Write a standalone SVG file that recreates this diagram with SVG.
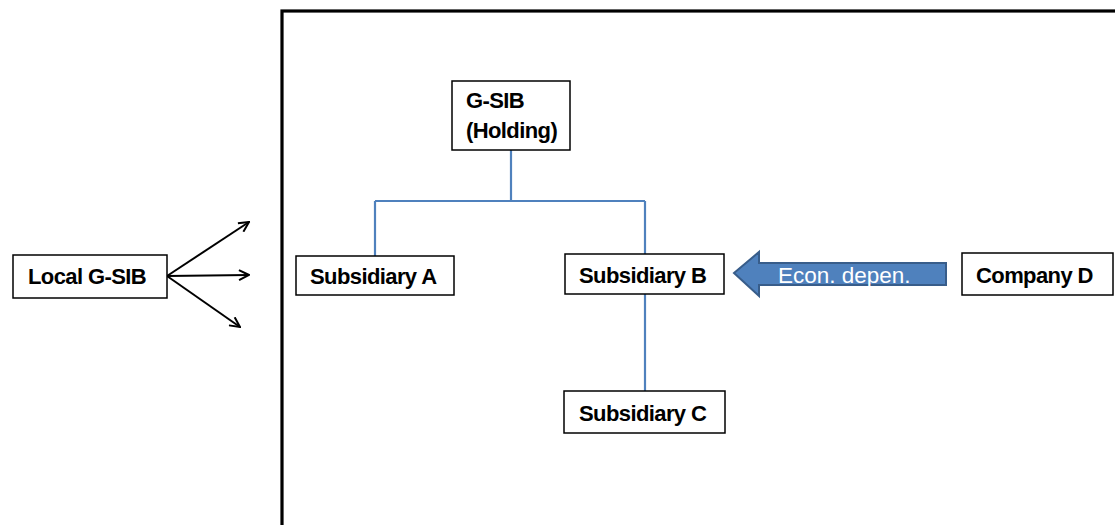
<svg xmlns="http://www.w3.org/2000/svg" width="1115" height="525" viewBox="0 0 1115 525">
<style>
.box{fill:#fff;stroke:#000;stroke-width:1.5}
.lbl{font-family:"Liberation Sans",Arial,sans-serif;font-weight:bold;font-size:22px;letter-spacing:-0.6px;fill:#000}
.tree{fill:none;stroke:#4f81bd;stroke-width:2.2}
.arr{fill:none;stroke:#000;stroke-width:2}
</style>
<defs>
<marker id="open" viewBox="0 0 12 12" refX="11" refY="6" markerWidth="12" markerHeight="12" markerUnits="userSpaceOnUse" orient="auto">
<path d="M1,1 L11,6 L1,11" fill="none" stroke="#000" stroke-width="2"/>
</marker>
</defs>
<rect x="282" y="11" width="900" height="600" fill="none" stroke="#000" stroke-width="3.2"/>
<g id="connectors">
<path class="tree" d="M511,150 V201 M375,201 H645 M375,201 V256 M645,201 V254 M645,294 V391"/>
<line class="arr" x1="167" y1="276" x2="249" y2="222" marker-end="url(#open)"/>
<line class="arr" x1="167" y1="276" x2="249" y2="275" marker-end="url(#open)"/>
<line class="arr" x1="167" y1="276" x2="240" y2="327" marker-end="url(#open)"/>
<g id="econ-arrow">
<path d="M734,273 L759,252 L759,263 L946,263 L946,285 L759,285 L759,296 Z" fill="#4f81bd" stroke="#385d8a" stroke-width="2"/>
<text x="778" y="283" font-family="'Liberation Sans',Arial,sans-serif" font-size="22.5" fill="#fff">Econ. depen.</text>
</g>
</g>
<g id="local-gsib">
<rect class="box" x="13" y="255" width="154" height="43"/>
<text class="lbl" x="28" y="284">Local G-SIB</text>
</g>
<g id="gsib-holding">
<rect class="box" x="452" y="81" width="118" height="69"/>
<text class="lbl" x="466" y="108">G-SIB</text>
<text class="lbl" x="466" y="138">(Holding)</text>
</g>
<g id="subsidiary-a">
<rect class="box" x="296" y="256" width="158" height="39"/>
<text class="lbl" x="310" y="284">Subsidiary A</text>
</g>
<g id="subsidiary-b">
<rect class="box" x="565" y="254" width="159" height="40"/>
<text class="lbl" x="579" y="283">Subsidiary B</text>
</g>
<g id="subsidiary-c">
<rect class="box" x="564" y="391" width="161" height="42"/>
<text class="lbl" x="579" y="421">Subsidiary C</text>
</g>
<g id="company-d">
<rect class="box" x="962" y="253" width="151" height="42"/>
<text class="lbl" x="976" y="283">Company D</text>
</g>
</svg>
